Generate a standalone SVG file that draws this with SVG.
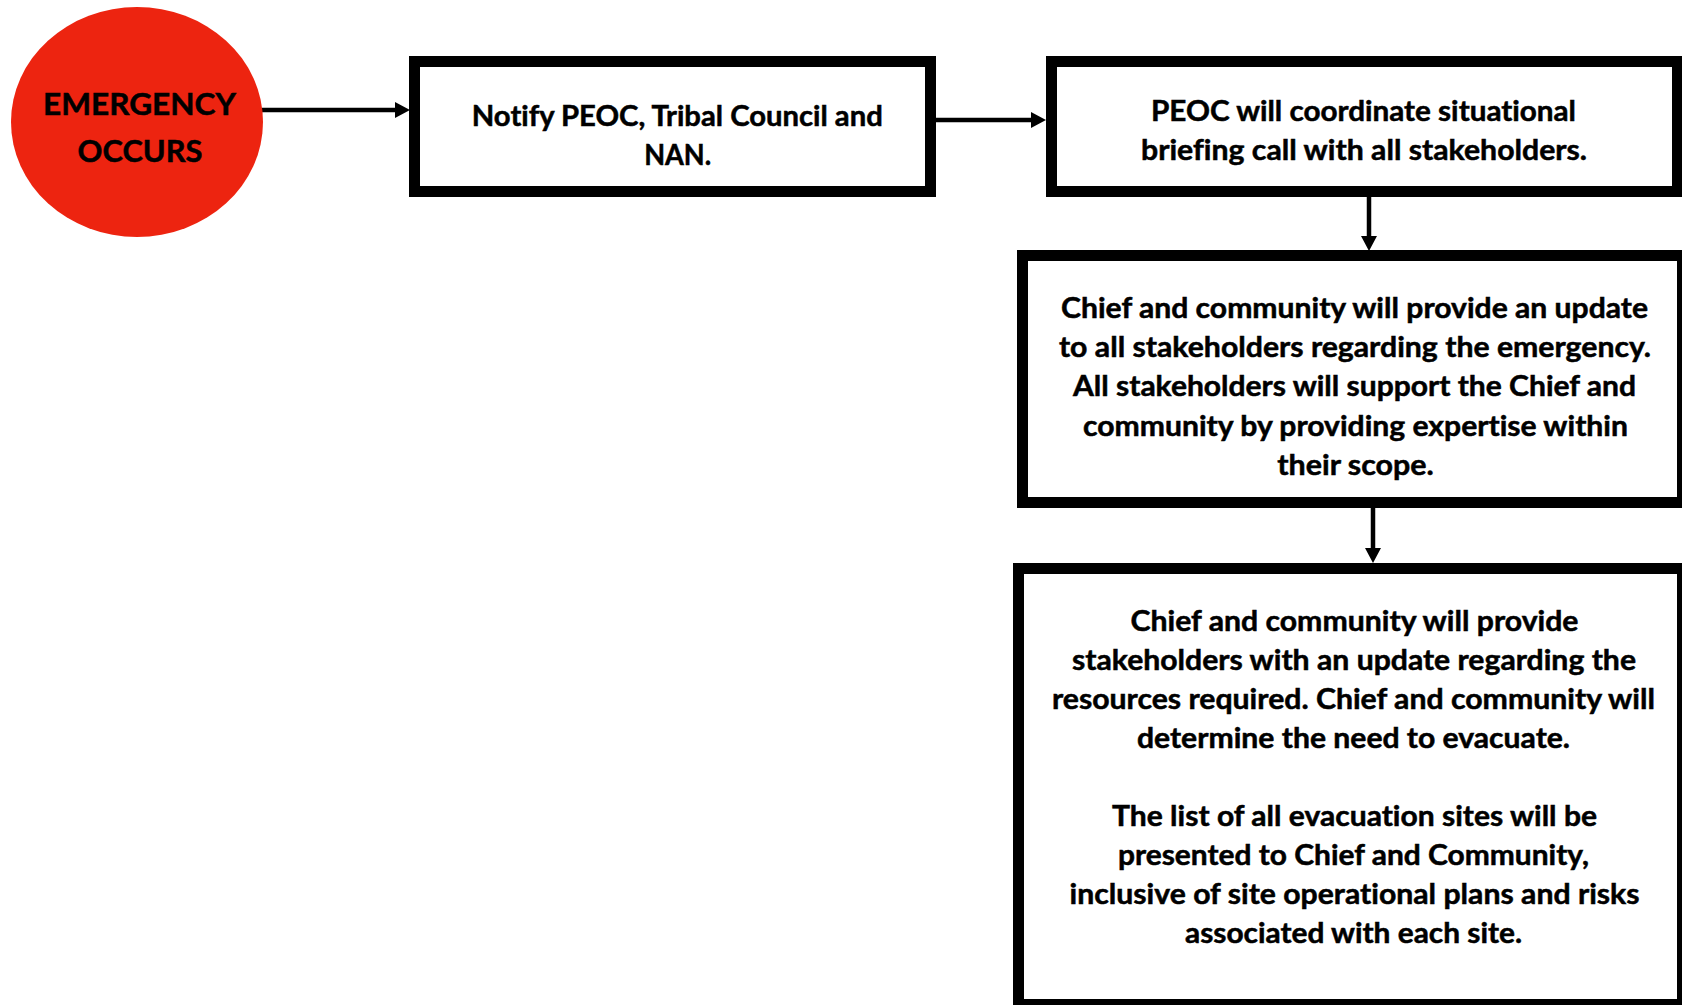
<svg xmlns="http://www.w3.org/2000/svg" width="1682" height="1005" viewBox="0 0 1682 1005">
<style>
.box{fill:#fff;stroke:#000;stroke-width:11}
.t{font-family:Lato,"Open Sans","Liberation Sans",sans-serif;font-weight:700;font-size:28px;fill:#000;stroke:#000;stroke-width:0.5;text-anchor:middle;font-variant-ligatures:none}
.big{font-size:30.7px}
.conn{stroke:#000;stroke-width:4.5;fill:none}
</style>
<defs>
<marker id="ah" markerUnits="userSpaceOnUse" markerWidth="15" markerHeight="16" refX="0" refY="8" orient="auto">
<path d="M0,0 L15,8 L0,16 Z" fill="#000"/>
</marker>
</defs>
<g id="connectors">
<line class="conn" x1="262" y1="110" x2="395" y2="110" marker-end="url(#ah)"/>
<line class="conn" x1="936" y1="120" x2="1031" y2="120" marker-end="url(#ah)"/>
<line class="conn" x1="1369" y1="197" x2="1369" y2="236" marker-end="url(#ah)"/>
<line class="conn" x1="1373" y1="508" x2="1373" y2="548" marker-end="url(#ah)"/>
</g>
<g id="node-emergency">
<ellipse cx="137" cy="122" rx="126" ry="115" fill="#ED2410"/>
<text class="t big" x="139.5" y="115" textLength="193" lengthAdjust="spacingAndGlyphs">EMERGENCY</text>
<text class="t big" x="140" y="162" textLength="125" lengthAdjust="spacingAndGlyphs">OCCURS</text>
</g>
<g id="node-notify">
<rect class="box" x="414.5" y="61.5" width="516" height="130"/>
<text class="t" x="677.3" y="126" textLength="411" lengthAdjust="spacingAndGlyphs">Notify PEOC, Tribal Council and</text>
<text class="t" x="677.7" y="165" textLength="67" lengthAdjust="spacingAndGlyphs">NAN.</text>
</g>
<g id="node-briefing">
<rect class="box" x="1051.5" y="61.5" width="626" height="130"/>
<text class="t" x="1363.5" y="120.5" textLength="425" lengthAdjust="spacingAndGlyphs">PEOC will coordinate situational</text>
<text class="t" x="1364" y="159.5" textLength="446" lengthAdjust="spacingAndGlyphs">briefing call with all stakeholders.</text>
</g>
<g id="node-update">
<rect class="box" x="1022.5" y="255.5" width="660" height="247"/>
<text class="t" x="1354.5" y="318" textLength="587" lengthAdjust="spacingAndGlyphs">Chief and community will provide an update</text>
<text class="t" x="1355" y="357" textLength="592" lengthAdjust="spacingAndGlyphs">to all stakeholders regarding the emergency.</text>
<text class="t" x="1354.5" y="396" textLength="563" lengthAdjust="spacingAndGlyphs">All stakeholders will support the Chief and</text>
<text class="t" x="1355.5" y="435.5" textLength="545" lengthAdjust="spacingAndGlyphs">community by providing expertise within</text>
<text class="t" x="1355.5" y="474.5" textLength="156.5" lengthAdjust="spacingAndGlyphs">their scope.</text>
</g>
<g id="node-resources">
<rect class="box" x="1018.5" y="568.5" width="664" height="436"/>
<text class="t" x="1354.5" y="631" textLength="448" lengthAdjust="spacingAndGlyphs">Chief and community will provide</text>
<text class="t" x="1354" y="670" textLength="564" lengthAdjust="spacingAndGlyphs">stakeholders with an update regarding the</text>
<text class="t" x="1353.5" y="709" textLength="603" lengthAdjust="spacingAndGlyphs">resources required. Chief and community will</text>
<text class="t" x="1353.5" y="748" textLength="433" lengthAdjust="spacingAndGlyphs">determine the need to evacuate.</text>
<text class="t" x="1354.5" y="826" textLength="485" lengthAdjust="spacingAndGlyphs">The list of all evacuation sites will be</text>
<text class="t" x="1353.5" y="865" textLength="471" lengthAdjust="spacingAndGlyphs">presented to Chief and Community,</text>
<text class="t" x="1354.5" y="904" textLength="570" lengthAdjust="spacingAndGlyphs">inclusive of site operational plans and risks</text>
<text class="t" x="1353.5" y="943" textLength="337" lengthAdjust="spacingAndGlyphs">associated with each site.</text>
</g>
</svg>
